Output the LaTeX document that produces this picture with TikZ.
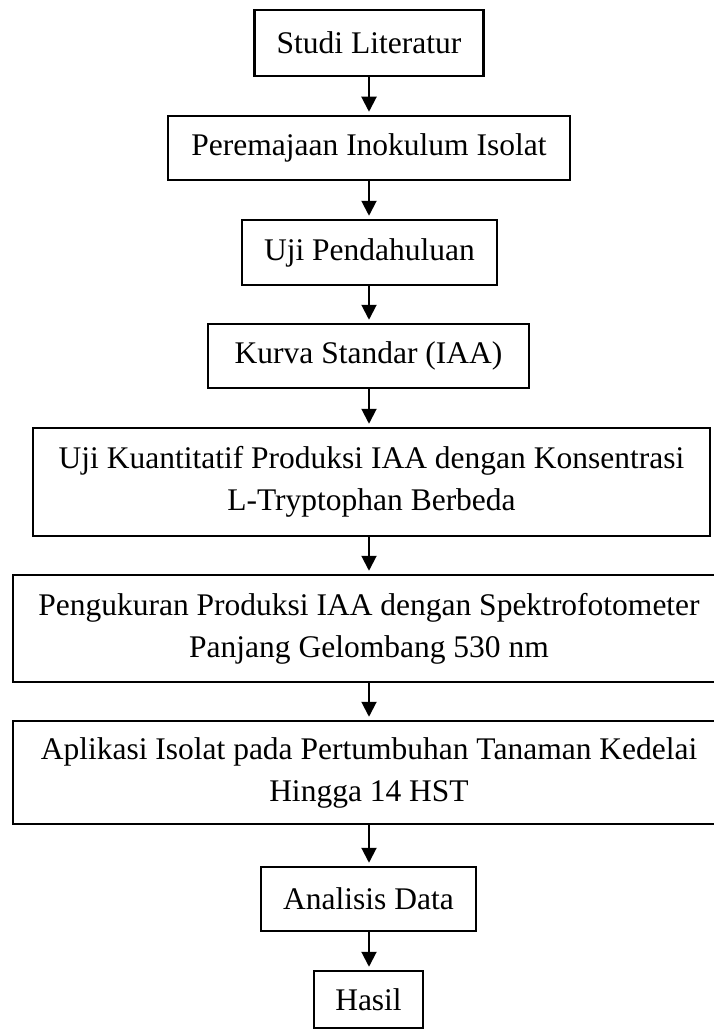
\documentclass[tikz,border=0pt]{standalone}
\usepackage{fontspec}
\setmainfont{Liberation Serif}
\usetikzlibrary{arrows.meta}

\tikzset{
  box/.style={draw, line width=2.5pt, inner sep=0pt, align=center,
    font=\fontsize{31.5}{42}\selectfont},
  arr/.style={line width=2pt, -{Triangle[width=15pt,length=15pt]}, shorten >=3pt}
}

\begin{document}
\begin{tikzpicture}[x=1pt,y=1pt]
\useasboundingbox (0,0) rectangle (713,-1030);
\node[box, minimum width=229pt, minimum height=66pt] (A) at (369,-43) {Studi Literatur};
\node[box, minimum width=402pt, minimum height=64pt] (B) at (369,-148) {Peremajaan Inokulum Isolat};
\node[box, minimum width=255pt, minimum height=65pt] (C) at (369.5,-252.5) {Uji Pendahuluan};
\node[box, minimum width=321pt, minimum height=64pt] (D) at (368.5,-356) {Kurva Standar (IAA)};
\node[box, minimum width=677pt, minimum height=108pt] (E) at (371.5,-482) {Uji Kuantitatif Produksi IAA dengan Konsentrasi\\L-Tryptophan Berbeda};
\node[box, minimum width=712pt, minimum height=107pt] (F) at (369,-628.5) {Pengukuran Produksi IAA dengan Spektrofotometer\\Panjang Gelombang 530 nm};
\node[box, minimum width=712pt, minimum height=103pt] (G) at (369,-772.5) {Aplikasi Isolat pada Pertumbuhan Tanaman Kedelai\\Hingga 14 HST};
\node[box, minimum width=215pt, minimum height=64pt] (H) at (368.5,-899) {Analisis Data};
\node[box, minimum width=109pt, minimum height=57pt] (I) at (368.5,-999.5) {Hasil};

\draw[arr] (A.south) -- (A.south |- B.north);
\draw[arr] (B.south) -- (B.south |- C.north);
\draw[arr] (B.south |- C.south) -- (B.south |- D.north);
\draw[arr] (B.south |- D.south) -- (B.south |- E.north);
\draw[arr] (B.south |- E.south) -- (B.south |- F.north);
\draw[arr] (F.south) -- (F.south |- G.north);
\draw[arr] (F.south |- G.south) -- (F.south |- H.north);
\draw[arr] (F.south |- H.south) -- (F.south |- I.north);
\end{tikzpicture}
\end{document}
